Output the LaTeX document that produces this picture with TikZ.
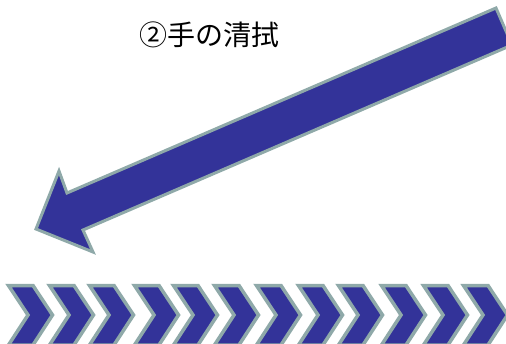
\documentclass[tikz,border=0pt]{standalone}
\usepackage{fontspec}
\newfontfamily\cjk{Noto Sans CJK JP}
\definecolor{arrowfill}{HTML}{333399}
\definecolor{arrowline}{HTML}{8FA9A9}
\tikzset{
  bluearrow/.style={fill=arrowfill, draw=arrowline, line width=3pt, line join=miter},
  chev/.style={fill=arrowfill, draw=arrowline, line width=3.5pt, line join=miter}
}
\begin{document}
\begin{tikzpicture}[x=1pt,y=1pt]
\useasboundingbox (0,0) rectangle (506,343);
\clip (0,0) rectangle (506,343);
% big arrow
\draw[bluearrow] (496,335) -- (512,298) -- (83,113) -- (93,91) -- (36,114) -- (59,172) -- (67,150) -- cycle;
% chevrons
\foreach \xo in {7,48,88,133,172,213,255,297,337,380,422,462}{
  \draw[chev] (\xo+1.5,57.5) -- (\xo+26,57.5) -- (\xo+45.5,28) -- (\xo+26,-2) -- (\xo+1.5,-2) -- (\xo+21,28) -- cycle;
}
\node[font=\cjk\fontsize{28}{32}\selectfont, inner sep=0pt, anchor=center] (title) at (209,308) {②手の清拭};
\end{tikzpicture}
\end{document}
